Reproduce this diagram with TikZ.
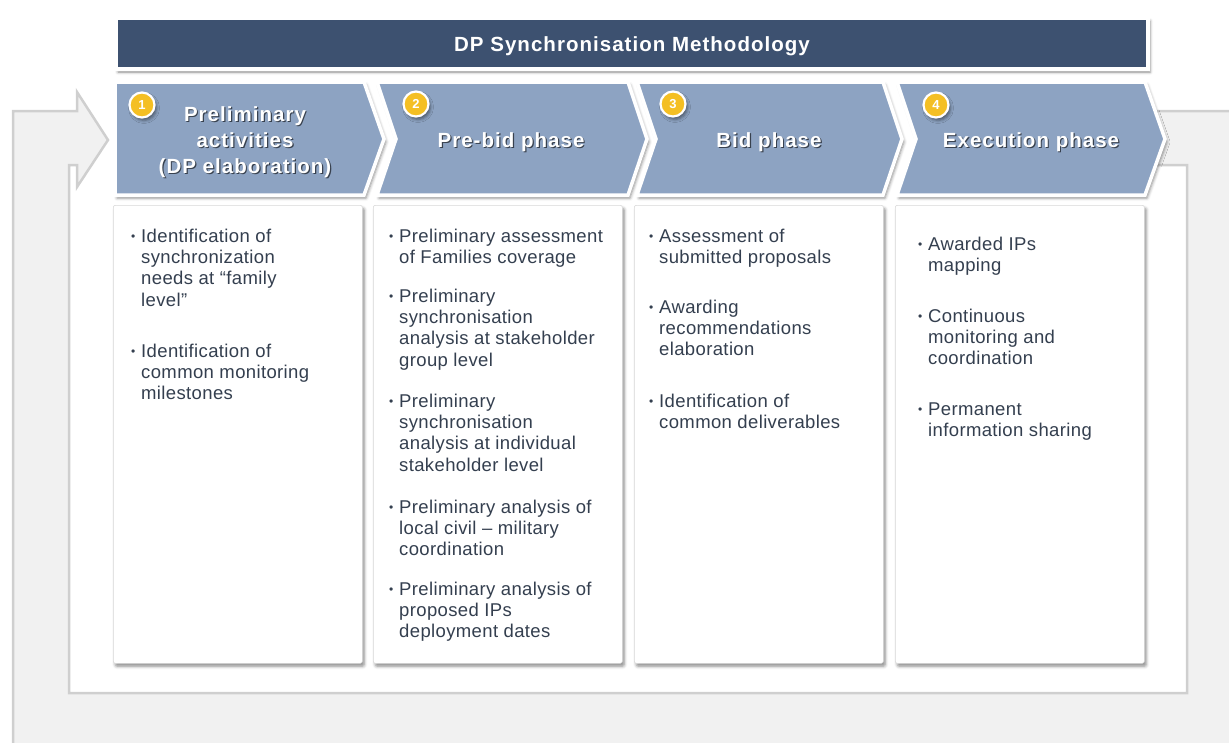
\documentclass[tikz,border=0pt]{standalone}
\usepackage{fontspec}
\setmainfont{Liberation Sans}
\newfontfamily\bodyfont[LetterSpace=2]{Liberation Sans}
\newfontfamily\headfont[LetterSpace=5]{Liberation Sans}
\usetikzlibrary{shadows.blur}
\definecolor{loopfill}{HTML}{F1F1F1}
\definecolor{loopedge}{HTML}{CFCFCF}
\definecolor{titlefill}{HTML}{3D5170}
\definecolor{chevfill}{HTML}{8DA3C2}
\definecolor{bodytext}{HTML}{343F4F}
\definecolor{badgefill}{HTML}{F4BF23}
\newcommand\shtext[1]{\makebox[0pt][l]{\hspace{1.2pt}\raisebox{-1.5pt}{\textcolor{chevfill!40!black}{#1}}}#1}
\newcommand\bitem[1]{\llap{\raisebox{1.8pt}{\fontsize{12}{12}\selectfont\textbullet}\hspace{6pt}}\parbox[t]{240pt}{\raggedright #1}}
\tikzset{
  softshadow/.style={blur shadow={shadow xshift=2pt, shadow yshift=-3pt, shadow blur radius=3pt, shadow opacity=45}},
  chevron/.style={fill=chevfill, draw=white, line width=3.5pt, line join=miter, softshadow},
  titlebar/.style={fill=titlefill, draw=white, line width=4pt, softshadow, minimum width=1032pt, minimum height=51pt, inner sep=0pt, text=white, font=\headfont\bfseries\fontsize{20.5}{20.5}\selectfont, text height=17.6pt, text depth=1.8pt},
  chevtext/.style={anchor=base, inner sep=0pt, text=white, font=\headfont\bfseries\fontsize{20.5}{26}\selectfont},
  badge/.style={circle, fill=badgefill, draw=white, line width=2.2pt, minimum size=25pt, inner sep=0pt, text=white, font=\bfseries\fontsize{13}{13}\selectfont, softshadow},
  contentbox/.style={anchor=north west, fill=white, draw=black!15, line width=0.6pt, rounded corners=2pt, minimum width=249pt, minimum height=458pt, inner sep=0pt, softshadow},
  item/.style={anchor=base west, inner sep=0pt, text=bodytext, font=\bodyfont\fontsize{18.5}{21.4}\selectfont},
}
\begin{document}
\begin{tikzpicture}[x=1pt,y=-1pt]
\useasboundingbox (0,0) rectangle (1229,742);
\clip (0,0) rectangle (1229,742);
% loop arrow
\path[fill=loopfill, draw=loopedge, line width=2.5pt, line join=miter]
  (1150,111) -- (1245,111) -- (1245,760) -- (13,760) -- (13,111) -- (77,111) -- (77,92)
  -- (108,140) -- (77,187) -- (77,165) -- (69,165) -- (69,693) -- (1187,693) -- (1187,165)
  -- (1150,165) -- cycle;
% title
\node[titlebar] (title) at (632,43.5) {DP Synchronisation Methodology};
% content boxes
\node[contentbox] (box1) at (113,205) {};
\node[contentbox] (box2) at (373,205) {};
\node[contentbox] (box3) at (634,205) {};
\node[contentbox] (box4) at (895,205) {};
% chevrons
\path[chevron] (115,82) -- (364,82) -- (384,139) -- (364,195) -- (115,195) -- cycle;
\path[chevron] (377,82) -- (628,82) -- (647,139) -- (628,195) -- (377,195) -- (396,139) -- cycle;
\path[chevron] (637,82) -- (883,82) -- (902,139) -- (883,195) -- (637,195) -- (656,139) -- cycle;
\path[chevron] (897,82) -- (1145,82) -- (1165,139) -- (1145,195) -- (897,195) -- (916,139) -- cycle;
% chevron labels
\node[chevtext] (h1) at (245,121) {\parbox[t]{220pt}{\centering\baselineskip=26pt \shtext{Preliminary}\\\shtext{activities}\\\shtext{(DP elaboration)}}};
\node[chevtext] (h2) at (511,147) {\shtext{Pre-bid phase}};
\node[chevtext] (h3) at (769,147) {\shtext{Bid phase}};
\node[chevtext] (h4) at (1031,147) {\shtext{Execution phase}};
% badges
\node[badge] (b1) at (142,105) {1};
\node[badge] (b2) at (416,104) {2};
\node[badge] (b3) at (673,104) {3};
\node[badge] (b4) at (936,105) {4};
% box 1
\node[item] (i11) at (141,242) {\bitem{Identification of\\synchronization\\needs at “family\\level”}};
\node[item] (i12) at (141,357) {\bitem{Identification of\\common monitoring\\milestones}};
% box 2
\node[item] (i21) at (399,242) {\bitem{Preliminary assessment\\of Families coverage}};
\node[item] (i22) at (399,302) {\bitem{Preliminary\\synchronisation\\analysis at stakeholder\\group level}};
\node[item] (i23) at (399,407) {\bitem{Preliminary\\synchronisation\\analysis at individual\\stakeholder level}};
\node[item] (i24) at (399,513) {\bitem{Preliminary analysis of\\local civil – military\\coordination}};
\node[item] (i25) at (399,595) {\bitem{Preliminary analysis of\\proposed IPs\\deployment dates}};
% box 3
\node[item] (i31) at (659,242) {\bitem{Assessment of\\submitted proposals}};
\node[item] (i32) at (659,313) {\bitem{Awarding\\recommendations\\elaboration}};
\node[item] (i33) at (659,407) {\bitem{Identification of\\common deliverables}};
% box 4
\node[item] (i41) at (928,250) {\bitem{Awarded IPs\\mapping}};
\node[item] (i42) at (928,322) {\bitem{Continuous\\monitoring and\\coordination}};
\node[item] (i43) at (928,415) {\bitem{Permanent\\information sharing}};
\end{tikzpicture}
\end{document}
